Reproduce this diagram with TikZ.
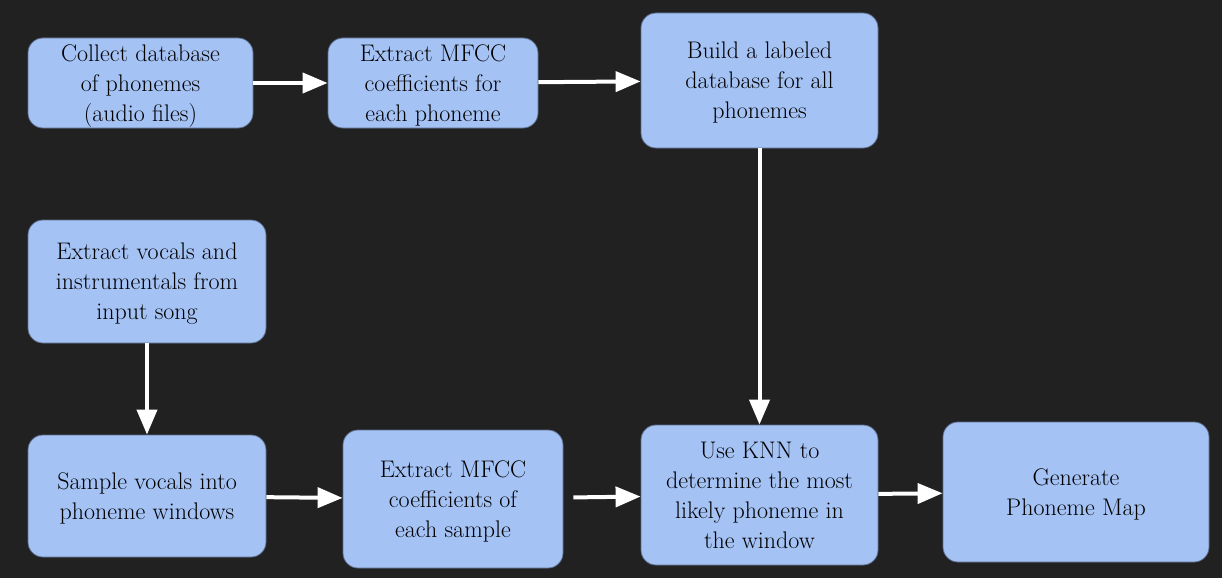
\documentclass[tikz,border=0pt]{standalone}
\usetikzlibrary{arrows.meta,%
                positioning}
\definecolor{bgdark}{HTML}{212121}
\definecolor{boxblue}{HTML}{A4C2F4}
\definecolor{boxline}{HTML}{5E6E8C}

\begin{document}
\begin{tikzpicture}[x=1pt,y=-1pt,style=thick]
\tikzstyle{stepbox}=[draw=boxline,line width=0.8pt,fill=boxblue,rounded corners=15pt,
  align=center,inner sep=0pt,text depth=-2pt,font=\fontsize{24}{30}\selectfont]
\tikzstyle{edge} = [draw=white,line width=4pt,-{Triangle[length=25pt,width=20pt]}]

\fill[bgdark] (0,0) rectangle (1222,578);

\draw (140.5,83) node[stepbox,minimum width=225pt,minimum height=90pt] (collect)
  {Collect database\\of phonemes\\(audio files)};
\draw (433,83) node[stepbox,minimum width=210pt,minimum height=90pt] (mfccdb)
  {Extract MFCC\\coefficients for\\each phoneme};
\draw (759.5,80.5) node[stepbox,minimum width=237pt,minimum height=135pt] (labeled)
  {Build a labeled\\database for all\\phonemes};
\draw (147,281.5) node[stepbox,minimum width=238pt,minimum height=123pt] (vocals)
  {Extract vocals and\\instrumentals from\\input song};
\draw (147,496) node[stepbox,minimum width=238pt,minimum height=122pt] (sample)
  {Sample vocals into\\phoneme windows};
\draw (453,499) node[stepbox,minimum width=220pt,minimum height=138pt] (mfccsong)
  {Extract MFCC\\coefficients of\\each sample};
\draw (759.5,495) node[stepbox,minimum width=237pt,minimum height=140pt] (knn)
  {Use KNN to\\determine the most\\likely phoneme in\\the window};
\draw (1076,492) node[stepbox,minimum width=266pt,minimum height=140pt] (phmap)
  {Generate\\Phoneme Map};

\path[edge] (collect) -- (mfccdb);
\path[edge] (mfccdb) -- (labeled);
\path[edge] (labeled) -- (knn);
\path[edge] (vocals) -- (sample);
\path[edge] (sample) -- (mfccsong);
\path[edge,shorten <=10pt] (mfccsong) -- (knn);
\path[edge] (knn) -- (phmap);
\end{tikzpicture}
\end{document}
